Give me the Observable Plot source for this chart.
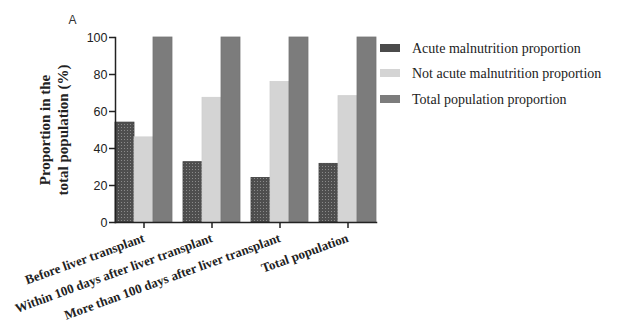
<!DOCTYPE html>
<html>
<head>
<meta charset="utf-8">
<script src="https://cdn.jsdelivr.net/npm/d3@7"></script>
<script src="https://cdn.jsdelivr.net/npm/@observablehq/plot@0.6"></script>
<style>
  html, body { margin: 0; padding: 0; background: #fff; }
  #chart { position: relative; width: 625px; height: 327px; }
  #chart svg { display: block; }
  g[aria-label="fx-axis tick label"] text { font-family: "Liberation Serif", serif; font-weight: bold; font-size: 13px; }
</style>
</head>
<body>
<div id="chart"></div>
<script>
const groups = [
  "Before liver transplant",
  "Within 100 days after liver transplant",
  "More than 100 days after liver transplant",
  "Total population"
];
const series = [
  "Acute malnutrition proportion",
  "Not acute malnutrition proportion",
  "Total population proportion"
];
const acute = [54, 32.6, 24.1, 31.7];
const notAcute = [46, 67.4, 75.9, 68.3];
const total = [100, 100, 100, 100];
const yTicks = [0, 20, 40, 60, 80, 100];
const yLabel = "Proportion in the\ntotal population (%)";
const panelLabel = "A";

const fills = ["url(#dots)", "#d4d4d4", "#7c7c7c"];
const strokes = ["#3c3c3c", "#cfcfcf", "#767676"];
const values = [acute, notAcute, total];

const rows = [];
groups.forEach((g, i) => series.forEach((s, j) => rows.push({group: g, series: s, value: values[j][i]})));

const barMarks = series.map((s, j) => Plot.barY(rows.filter(d => d.series === s), {
  fx: "group", x: "series", y: "value", fill: fills[j], stroke: strokes[j], strokeWidth: 0.8
}));

const plot = Plot.plot({
  width: 625,
  height: 327,
  marginLeft: 106,
  marginRight: 240,
  marginTop: 37,
  marginBottom: 105,
  style: {fontFamily: "Liberation Sans, Arial, sans-serif", fontSize: "12px", color: "#222", background: "#fff"},
  fx: {domain: groups, paddingInner: 0.16, paddingOuter: 0.11, label: null},
  x: {domain: series, padding: 0, axis: null},
  y: {domain: [0, 100], label: null},
  marks: [
    ...barMarks,
    Plot.axisY({ticks: yTicks, tickSize: 6, tickPadding: 2, label: null, fontSize: 12.5, stroke: "#222", strokeWidth: 1.5}),
    Plot.axisFx({anchor: "bottom", tickRotate: -20, tickSize: 6, tickPadding: 9, label: null, stroke: "#222", strokeWidth: 1.5}),
    Plot.frame({anchor: "bottom", facet: "super", stroke: "#222", strokeWidth: 1.5}),
    Plot.frame({anchor: "left", facet: "super", stroke: "#222", strokeWidth: 1.5}),
    Plot.text([yLabel], {facet: "super", frameAnchor: "left", textAnchor: "middle", rotate: -90, dx: -62, fontFamily: "Liberation Serif, serif", fontWeight: "bold", fontSize: 15, fill: "#222", lineHeight: 1.15}),
    Plot.text([panelLabel], {facet: "super", frameAnchor: "top-left", textAnchor: "middle", dx: -43, dy: -22, fontSize: 12, fill: "#333"})
  ]
});

document.getElementById("chart").appendChild(plot);

const svg = d3.select(plot);
const defs = svg.insert("defs", ":first-child");
const pat = defs.append("pattern").attr("id", "dots").attr("patternUnits", "userSpaceOnUse")
  .attr("width", 3).attr("height", 3);
pat.append("rect").attr("width", 3).attr("height", 3).attr("fill", "#4e4e4e");
pat.append("rect").attr("x", 1).attr("y", 1).attr("width", 1).attr("height", 1).attr("fill", "#8a8a8a");

const legendFills = ["#4b4b4b", "#d4d4d4", "#7c7c7c"];
const legend = svg.append("g").attr("font-family", "Liberation Serif, serif").attr("font-size", 14)
  .attr("fill", "#222").attr("text-anchor", "start");
const legendY = [48, 73, 99];
series.forEach((s, j) => {
  legend.append("rect").attr("x", 380).attr("y", legendY[j] - 4).attr("width", 20).attr("height", 8).attr("fill", legendFills[j]);
  legend.append("text").attr("x", 412).attr("y", legendY[j]).attr("dy", "0.35em").text(s);
});
</script>
</body>
</html>
